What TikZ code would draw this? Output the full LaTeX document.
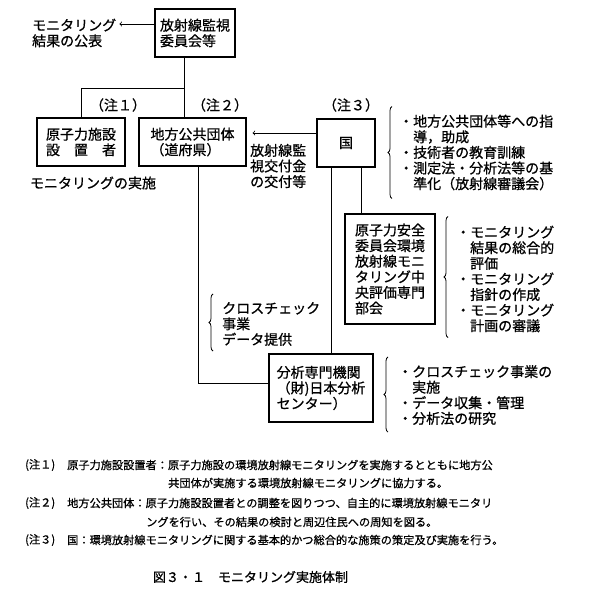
\documentclass[tikz,border=0pt]{standalone}
\usepackage{fontspec}
\setmainfont{Noto Sans CJK JP}[FakeBold=0.8]
\usepackage{tikz}
\usetikzlibrary{positioning,decorations.pathreplacing}

\begin{document}
\begin{tikzpicture}[
    x=1pt, y=-1pt,
    every node/.style={inner sep=0pt, font=\fontsize{14}{15.6}\selectfont},
    box/.style={draw, line width=1.1pt, align=left},
    txt/.style={anchor=west, align=left},
    note/.style={anchor=west, font=\fontsize{11.2}{13}\selectfont},
    line/.style={line width=0.8pt},
    arrow/.style={->, >=to, line width=0.8pt},
    brc/.style={decorate, decoration={brace, amplitude=4pt}, line width=0.8pt}
]
    \useasboundingbox (0,0) rectangle (591,597);

    % boxes
    \node[box, minimum width=80pt, minimum height=48pt] (iinkai) at (195,33) {放射線監視\\委員会等};
    \node[box, minimum width=88pt, minimum height=48pt] (setchi) at (81,142) {原子力施設\\設　置　者};
    \node[box, minimum width=107pt, minimum height=48pt] (chiho) at (192.5,142) {地方公共団体\\（道府県）};
    \node[box, minimum width=58pt, minimum height=48pt] (kuni) at (346,143) {国};
    \node[box, minimum width=90pt, minimum height=110pt] (chuo) at (390,269) {原子力安全\\委員会環境\\放射線モニ\\タリング中\\央評価専門\\部会};
    \node[box, minimum width=104pt, minimum height=68pt] (bunseki) at (321,388) {分析専門機関\\（財)日本分析\\センター）};

    % labels
    \node[txt] (kohyo) at (32,33) {モニタリング\\結果の公表};
    \node (chu1) at (118,105) {（注１）};
    \node (chu2) at (220,105) {（注２）};
    \node (chu3) at (351,105) {（注３）};
    \node (jisshi) at (93,183) {モニタリングの実施};
    \node[txt] (kofu) at (250,166) {放射線監\\視交付金\\の交付等};
    \node[txt] (cross) at (222,324) {クロスチェック\\事業\\データ提供};
    \node[txt] (shido) at (399,152.5) {・地方公共団体等への指\\\hspace*{1em}導，助成\\・技術者の教育訓練\\・測定法・分析法等の基\\\hspace*{1em}準化（放射線審議会）};
    \node[txt] (hyoka) at (456,279) {・モニタリング\\\hspace*{1em}結果の総合的\\\hspace*{1em}評価\\・モニタリング\\\hspace*{1em}指針の作成\\・モニタリング\\\hspace*{1em}計画の審議};
    \node[txt] (jigyo) at (398,395) {・クロスチェック事業の\\\hspace*{1em}実施\\・データ収集・管理\\・分析法の研究};

    % connectors
    \coordinate (fork) at (184,88);
    \draw[line] (iinkai.south -| fork) -- (fork |- chiho.north);
    \draw[line] (fork) -| (setchi.north);
    \draw[arrow] ([yshift=9pt]iinkai.west) -- ([xshift=3pt,yshift=9pt]kohyo.east);
    \draw[arrow, shorten >=6pt] ([yshift=10pt]kuni.west) -- ([yshift=10pt]kuni.west -| chiho.east);
    \draw[line] ([xshift=-15pt]kuni.south) -- ([xshift=-15pt]kuni.south |- bunseki.north);
    \draw[line] ([xshift=15pt]kuni.south) -- ([xshift=15pt]kuni.south |- chuo.north);
    \draw[line] ([xshift=5.5pt]chiho.south) |- ([yshift=5pt]bunseki.west);

    % braces
    \draw[brc] ([shift={(-7pt,-8pt)}]shido.south west) -- ([shift={(-7pt,8pt)}]shido.north west);
    \draw[brc] ([shift={(-8pt,-5pt)}]hyoka.south west) -- ([shift={(-8pt,9pt)}]hyoka.north west);
    \draw[brc] ([shift={(-10pt,-7pt)}]jigyo.south west) -- ([shift={(-10pt,8pt)}]jigyo.north west);
    \draw[brc] ([shift={(-9pt,-5pt)}]cross.south west) -- ([shift={(-9pt,8pt)}]cross.north west);

    % notes
    \node[note] (n1) at (25,465) {(注１)};
    \node[note] (n1a) at (67,465) {原子力施設設置者：原子力施設の環境放射線モニタリングを実施するとともに地方公};
    \node[note] (n1b) at (168,483) {共団体が実施する環境放射線モニタリングに協力する。};
    \node[note] (n2) at (25,503) {(注２)};
    \node[note] (n2a) at (67,503) {地方公共団体：原子力施設設置者との調整を図りつつ、自主的に環境放射線モニタリ};
    \node[note] (n2b) at (146,522) {ングを行い、その結果の検討と周辺住民への周知を図る。};
    \node[note] (n3) at (25,540) {(注３)};
    \node[note] (n3a) at (67,540) {国：環境放射線モニタリングに関する基本的かつ総合的な施策の策定及び実施を行う。};
    \node[font=\fontsize{13}{15}\selectfont] (caption) at (250.5,577) {図３・１　モニタリング実施体制};
\end{tikzpicture}
\end{document}
